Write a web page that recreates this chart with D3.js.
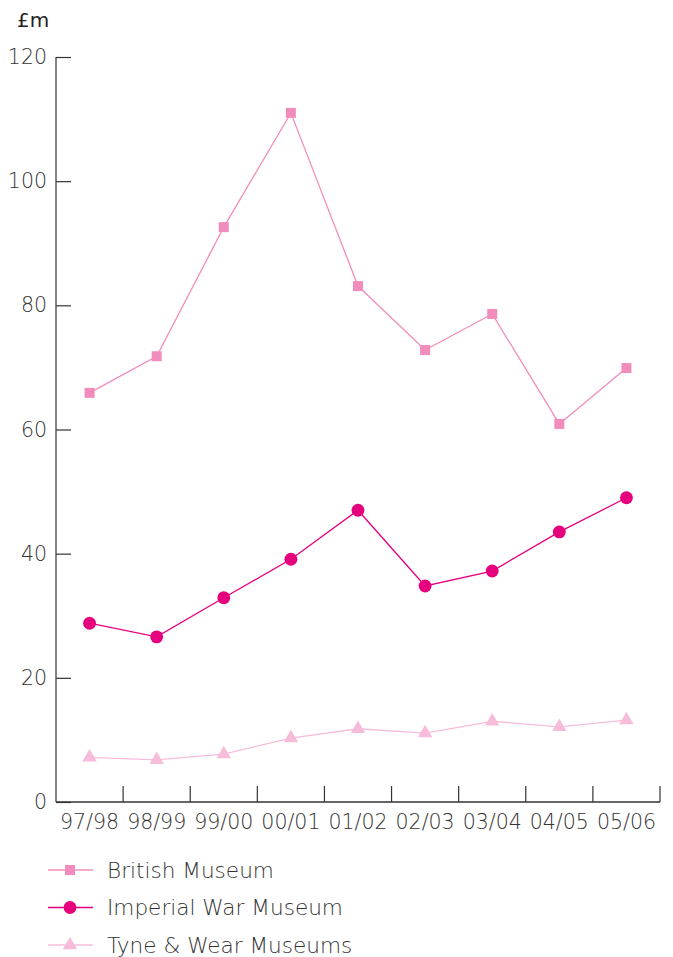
<!DOCTYPE html>
<html><head><meta charset="utf-8">
<script src="https://cdn.jsdelivr.net/npm/d3@7"></script>
<style>body{margin:0;background:#fff}text{font-family:"DejaVu Sans",sans-serif;font-weight:200;}</style>
</head><body><svg id="c" width="673" height="957"></svg>
<script>
const categories = ["97/98","98/99","99/00","00/01","01/02","02/03","03/04","04/05","05/06"];
const britishMuseum = [65.9,71.8,92.6,111.0,83.1,72.8,78.6,60.9,69.9];
const imperialWarMuseum = [28.8,26.6,32.9,39.1,47.0,34.8,37.2,43.5,49.0];
const tyneWearMuseums = [7.2,6.8,7.7,10.3,11.8,11.1,13.0,12.1,13.2];
const yTicks = [0,20,40,60,80,100,120];
const seriesNames = ["British Museum","Imperial War Museum","Tyne & Wear Museums"];
const seriesColors = ["#f28cbd","#e6007e","#f7bcd9"];
const seriesSymbols = [d3.symbolSquare, d3.symbolCircle, d3.symbolTriangle];
const symbolSizes = [100, 130, 90];
const seriesValues = [britishMuseum, imperialWarMuseum, tyneWearMuseums];

const svg = d3.select("#c");
const x = d3.scaleBand().domain(categories).range([56,660]);
const y = d3.scaleLinear().domain([0,120]).range([802,57]);
const axisColor = "#333";

// y axis
const yAxis = svg.append("g").attr("transform","translate(56,0)")
  .call(d3.axisRight(y).tickValues(yTicks).tickSize(15).tickFormat(""));
yAxis.select(".domain").remove();
yAxis.selectAll("line").attr("stroke",axisColor).attr("stroke-width",1.2);
svg.append("line").attr("x1",56).attr("x2",56).attr("y1",y(120)).attr("y2",y(0)).attr("stroke",axisColor).attr("stroke-width",1.2);
svg.selectAll(".ylab").data(yTicks).enter().append("text")
  .attr("x",47).attr("y",d=>y(d)+7).attr("text-anchor","end")
  .attr("font-size",20.5).attr("fill","#333").text(d=>d);
svg.append("text").attr("x",17).attr("y",27).attr("font-size",20).attr("fill","#222").style("font-weight",400).text("£m");

// x axis
svg.append("line").attr("x1",56).attr("x2",660).attr("y1",802).attr("y2",802).attr("stroke",axisColor).attr("stroke-width",1.5);
svg.selectAll(".xt").data(categories).enter().append("line")
  .attr("x1",d=>x(d)+x.bandwidth()).attr("x2",d=>x(d)+x.bandwidth())
  .attr("y1",802).attr("y2",786).attr("stroke",axisColor).attr("stroke-width",1.2);
svg.selectAll(".xlab").data(categories).enter().append("text")
  .attr("x",d=>x(d)+x.bandwidth()/2).attr("y",829).attr("text-anchor","middle")
  .attr("font-size",20.5).attr("fill","#333").text(d=>d);

// series (draw from back to front)
const order = [2,0,1];
order.forEach(i=>{
  const vals = seriesValues[i];
  const data = categories.map((c,j)=>({c,v:vals[j]}));
  const line = d3.line().x(d=>x(d.c)+x.bandwidth()/2).y(d=>y(d.v));
  svg.append("path").datum(data).attr("d",line).attr("fill","none")
    .attr("stroke",seriesColors[i]).attr("stroke-width",1.3);
  svg.selectAll(".m"+i).data(data).enter().append("path")
    .attr("d",d3.symbol().type(seriesSymbols[i]).size(symbolSizes[i]))
    .attr("transform",d=>`translate(${x(d.c)+x.bandwidth()/2},${y(d.v)})`)
    .attr("fill",seriesColors[i]);
});

// legend
seriesNames.forEach((n,i)=>{
  const ly = 870 + i*37.5;
  const g = svg.append("g");
  g.append("line").attr("x1",48).attr("x2",93).attr("y1",ly).attr("y2",ly).attr("stroke",seriesColors[i]).attr("stroke-width",1.3);
  g.append("path").attr("d",d3.symbol().type(seriesSymbols[i]).size(symbolSizes[i]))
    .attr("transform",`translate(70,${ly})`).attr("fill",seriesColors[i]);
  g.append("text").attr("x",107).attr("y",ly+7.5).attr("font-size",21.6).attr("fill","#333").text(n);
});
</script></body></html>
